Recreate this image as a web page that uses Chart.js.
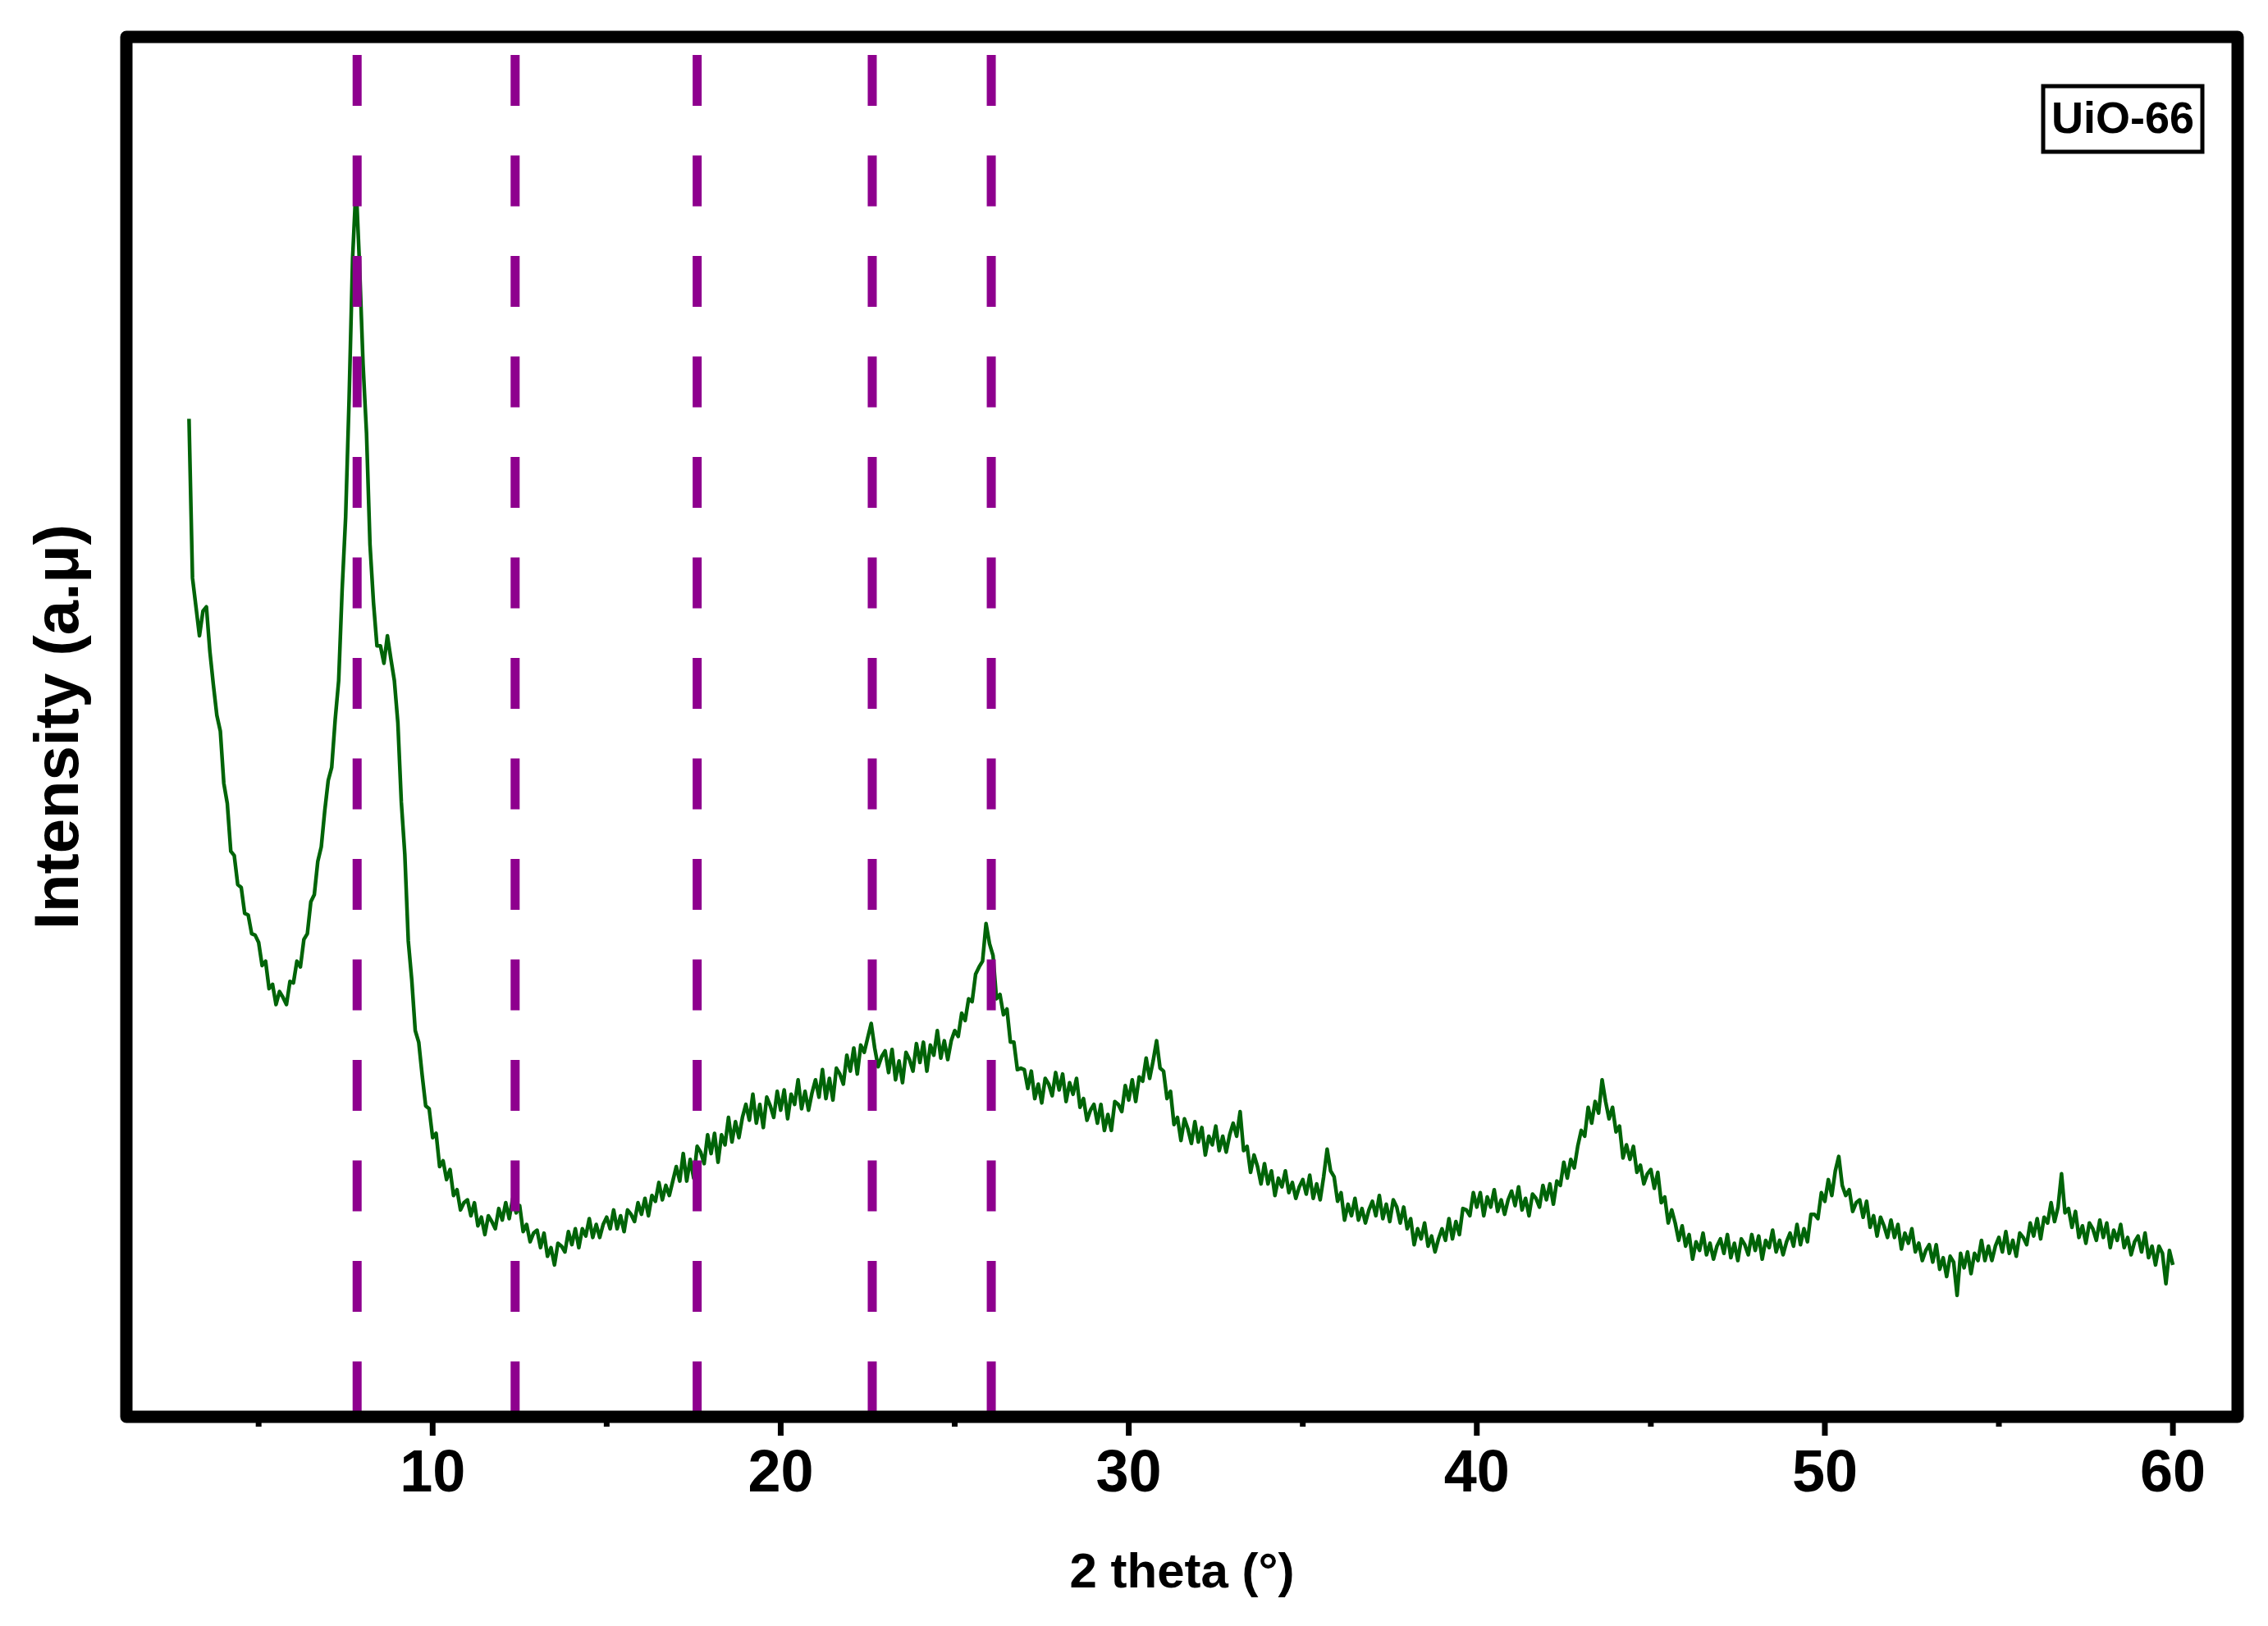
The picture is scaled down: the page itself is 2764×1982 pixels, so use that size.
<!DOCTYPE html>
<html>
<head>
<meta charset="utf-8">
<title>UiO-66 XRD</title>
<script src="https://cdn.jsdelivr.net/npm/chart.js@4.4.1/dist/chart.umd.min.js"></script>
<style>
  html, body { margin: 0; padding: 0; background: #fff; }
  #wrap { width: 2764px; height: 1982px; }
</style>
</head>
<body>
<div id="wrap"><canvas id="chartCanvas"></canvas></div>
<script>
// scan: 2 theta from 3.0 to 60.0 in 0.1 degree steps
const thetaStart = 3.0;
const thetaStep = 0.1;

// intensity (a.u.), one row per degree
const intensity = [
  690, 580, 560, 540, 557, 560, 529, 506, 485, 474, // 3
  438, 424, 391, 388, 368, 366, 348, 347, 334, 333, // 4
  328, 312, 315, 296, 299, 285, 294, 290, 285, 301, // 5
  300, 315, 311, 330, 334, 356, 361, 384, 394, 419, // 6
  440, 449, 482, 509, 572, 622, 704, 801, 852, 796, // 7
  728, 680, 603, 563, 533, 533, 521, 540, 524, 509, // 8
  480, 425, 389, 329, 302, 267, 259, 236, 215, 213, // 9
  193, 196, 173, 177, 164, 171, 153, 157, 143, 148, // 10
  150, 139, 148, 132, 138, 126, 139, 135, 130, 144, // 11
  136, 148, 137, 151, 141, 146, 128, 133, 121, 127, // 12
  129, 117, 127, 111, 117, 105, 120, 118, 114, 128, // 13
  119, 130, 117, 130, 125, 137, 124, 133, 124, 133, // 14
  138, 130, 143, 130, 139, 128, 143, 140, 135, 148, // 15
  140, 151, 139, 153, 149, 162, 150, 160, 153, 163, // 16
  173, 163, 182, 163, 178, 165, 187, 183, 175, 195, // 17
  182, 196, 176, 195, 188, 207, 190, 204, 193, 207, // 18
  216, 205, 223, 203, 216, 200, 221, 215, 207, 225, // 19
  212, 226, 206, 223, 216, 233, 213, 225, 212, 224, // 20
  233, 221, 240, 220, 234, 219, 241, 237, 230, 250, // 21
  239, 255, 237, 257, 252, 262, 272, 255, 242, 249, // 22
  253, 238, 254, 233, 246, 231, 252, 247, 239, 258, // 23
  245, 259, 239, 257, 250, 267, 248, 260, 247, 260, // 24
  267, 263, 279, 274, 289, 287, 306, 311, 315, 341, // 25
  327, 319, 289, 292, 278, 282, 259, 259, 240, 241, // 26
  240, 227, 239, 220, 230, 217, 234, 230, 222, 238, // 27
  226, 237, 218, 231, 223, 234, 214, 220, 205, 212, // 28
  216, 203, 216, 198, 209, 198, 218, 216, 211, 229, // 29
  219, 233, 218, 235, 232, 248, 234, 246, 260, 241, // 30
  239, 220, 225, 202, 207, 191, 206, 199, 189, 204, // 31
  190, 200, 181, 194, 188, 201, 184, 194, 183, 195, // 32
  203, 194, 211, 184, 187, 169, 181, 173, 161, 175, // 33
  161, 170, 153, 165, 159, 170, 155, 162, 151, 159, // 34
  164, 154, 167, 151, 161, 150, 166, 185, 170, 166, // 35
  149, 155, 136, 147, 139, 151, 136, 144, 134, 143, // 36
  149, 139, 153, 137, 147, 135, 150, 145, 134, 145, // 37
  130, 137, 119, 130, 123, 134, 118, 125, 114, 123, // 38
  130, 122, 137, 123, 135, 126, 144, 143, 139, 155, // 39
  145, 155, 139, 152, 145, 157, 142, 150, 140, 150, // 40
  156, 146, 159, 143, 151, 139, 154, 151, 145, 160, // 41
  150, 161, 147, 163, 160, 176, 165, 178, 172, 187, // 42
  198, 194, 214, 203, 218, 210, 233, 218, 206, 214, // 43
  197, 201, 179, 188, 178, 187, 169, 174, 161, 168, // 44
  171, 158, 169, 148, 152, 134, 143, 134, 122, 132, // 45
  118, 126, 109, 121, 115, 127, 112, 120, 109, 118, // 46
  123, 113, 126, 110, 120, 108, 123, 119, 112, 126, // 47
  115, 125, 109, 122, 117, 129, 114, 122, 112, 121, // 48
  127, 118, 133, 119, 130, 121, 140, 140, 137, 155, // 49
  149, 164, 153, 170, 180, 160, 153, 157, 142, 148, // 50
  150, 138, 149, 131, 139, 125, 138, 132, 124, 136, // 51
  124, 133, 116, 127, 120, 130, 114, 120, 108, 115, // 52
  119, 107, 119, 102, 110,  97, 111, 107,  84, 113, // 53
  103, 114,  99, 113, 108, 122, 108, 118, 108, 118, // 54
  124, 114, 128, 113, 122, 111, 127, 124, 119, 134, // 55
  125, 137, 123, 138, 134, 148, 135, 145, 168, 141, // 56
  144, 131, 142, 124, 132, 120, 134, 130, 122, 136, // 57
  124, 134, 117, 129, 122, 133, 117, 124, 112, 121, // 58
  125, 114, 127, 110, 118, 105, 118, 113,  92, 115, // 59
  105                                               // 60
];

// reference reflections marked with dashed lines
const peakPositions = [7.83, 12.37, 17.6, 22.63, 26.05];

const sampleLabel = "UiO-66";
const xTitle = "2 theta (°)";
const yTitle = "Intensity (a.μ)";

const xMin = 1.2, xMax = 61.86;
const yMin = 0, yMax = 954;

const FONT = "'Liberation Sans', Arial, sans-serif";
const GREEN = "#006408";
const PURPLE = "#8e008e";

const scanPoints = intensity.map((v, i) => ({
  x: +(thetaStart + i * thetaStep).toFixed(1),
  y: v
}));

const peakSets = peakPositions.map((p) => ({
  label: "ref " + p,
  data: [{ x: p, y: yMax }, { x: p, y: yMin }],
  borderColor: PURPLE,
  borderWidth: 11,
  borderDash: [62, 60.5],
  borderDashOffset: 100.5,
  borderCapStyle: "butt",
  pointRadius: 0,
  order: 0
}));

// box frame, outward ticks and the sample tag
const framePlugin = {
  id: "frame",
  afterDatasetsDraw(chart) {
    const { ctx, chartArea: a, scales } = chart;
    ctx.save();
    ctx.strokeStyle = "#000";
    ctx.lineCap = "butt";
    ctx.lineWidth = 7;
    scales.x.ticks.forEach((t) => {
      const px = scales.x.getPixelForValue(t.value);
      const len = t.value % 10 === 0 ? 23 : 12;
      ctx.beginPath();
      ctx.moveTo(px, a.bottom);
      ctx.lineTo(px, a.bottom + len);
      ctx.stroke();
    });

    ctx.lineWidth = 15;
    ctx.lineJoin = "round";
    ctx.strokeRect(a.left, a.top, a.right - a.left, a.bottom - a.top);

    const cx = a.right - 140, cy = a.top + 100;
    ctx.lineWidth = 5;
    ctx.lineJoin = "miter";
    ctx.strokeRect(cx - 97, cy - 40, 194, 80);
    ctx.fillStyle = "#000";
    ctx.font = "bold 54px " + FONT;
    ctx.textAlign = "center";
    ctx.textBaseline = "middle";
    ctx.fillText(sampleLabel, cx, cy + 2);
    ctx.restore();
  }
};

new Chart(document.getElementById("chartCanvas"), {
  type: "line",
  data: {
    datasets: [
      ...peakSets,
      {
        label: sampleLabel,
        data: scanPoints,
        borderColor: GREEN,
        borderWidth: 4.5,
        borderJoinStyle: "round",
        pointRadius: 0,
        tension: 0,
        order: 1
      }
    ]
  },
  options: {
    responsive: true,
    maintainAspectRatio: false,
    devicePixelRatio: 1,
    animation: false,
    layout: { padding: { top: 45, right: 37, left: 0, bottom: 0 } },
    plugins: {
      legend: { display: false },
      tooltip: { enabled: false }
    },
    scales: {
      x: {
        type: "linear",
        min: xMin,
        max: xMax,
        grid: { display: false, drawTicks: false },
        border: { display: false },
        ticks: {
          stepSize: 5,
          includeBounds: false,
          autoSkip: false,
          maxRotation: 0,
          padding: 35,
          color: "#000",
          font: { family: FONT, size: 72, weight: "bold", lineHeight: 1 },
          callback: (v) => (v % 10 === 0 ? String(v) : "")
        },
        title: {
          display: true,
          text: xTitle,
          color: "#000",
          font: { family: FONT, size: 60, weight: "bold", lineHeight: 1.2 },
          padding: { top: 0, bottom: 28 }
        },
        afterFit: (scale) => { scale.height = 255; }
      },
      y: {
        type: "linear",
        min: yMin,
        max: yMax,
        grid: { display: false, drawTicks: false },
        border: { display: false },
        ticks: { display: false },
        title: {
          display: true,
          text: yTitle,
          color: "#000",
          font: { family: FONT, size: 76, weight: "bold", lineHeight: 1.2 },
          padding: { top: 28, bottom: 0 }
        },
        afterFit: (scale) => { scale.width = 154; }
      }
    }
  },
  plugins: [framePlugin]
});
</script>
</body>
</html>
